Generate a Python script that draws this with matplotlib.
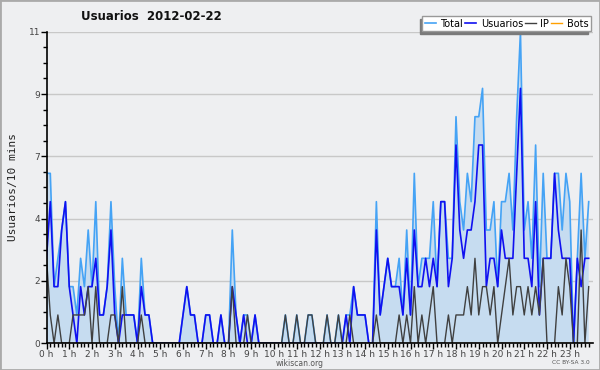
import numpy as np
import matplotlib
matplotlib.use('Agg')
import matplotlib.pyplot as plt
from matplotlib.patches import Rectangle

# 10-minute slots over the day (144 values)
usuarios = [3, 5, 2, 2, 4, 5, 2, 1, 0, 2, 1, 2, 2, 3, 1, 1, 2, 4, 1, 0,
            1, 1, 1, 1, 0, 2, 1, 1, 0, 0, 0, 0, 0, 0, 0, 0, 1, 2, 1, 1,
            0, 0, 1, 1, 0, 0, 1, 0, 0, 2, 1, 0, 1, 0, 0, 1, 0, 0, 0, 0,
            0, 0, 0, 0, 0, 0, 0, 0, 0, 0, 0, 0, 0, 0, 0, 0, 0, 0, 0, 1,
            0, 2, 1, 1, 1, 0, 0, 4, 1, 2, 3, 2, 2, 2, 1, 3, 1, 4, 2, 2,
            3, 2, 3, 2, 5, 5, 2, 3, 7, 4, 3, 4, 4, 5, 7, 7, 2, 3, 3, 2,
            4, 3, 3, 3, 6, 9, 3, 3, 2, 5, 1, 3, 3, 3, 6, 4, 3, 3, 3, 0,
            3, 2, 3, 3]
ip = [3, 1, 0, 1, 0, 0, 0, 1, 1, 1, 1, 2, 0, 2, 0, 0, 0, 1, 1, 0,
      2, 0, 0, 0, 0, 1, 0, 0, 0, 0, 0, 0, 0, 0, 0, 0, 0, 0, 0, 0,
      0, 0, 0, 0, 0, 0, 0, 0, 0, 2, 0, 0, 0, 1, 0, 0, 0, 0, 0, 0,
      0, 0, 0, 1, 0, 0, 1, 0, 0, 1, 1, 0, 0, 0, 1, 0, 0, 1, 0, 0,
      1, 0, 0, 0, 0, 0, 0, 1, 0, 0, 0, 0, 0, 1, 0, 1, 0, 2, 0, 1,
      0, 1, 2, 0, 0, 0, 1, 0, 1, 1, 1, 2, 1, 3, 1, 2, 2, 1, 2, 0,
      1, 2, 3, 1, 2, 2, 1, 2, 1, 2, 1, 3, 0, 0, 0, 2, 1, 3, 2, 0,
      0, 4, 0, 2]
total = [6, 6, 2, 3, 4, 5, 2, 2, 1, 3, 2, 4, 2, 5, 1, 1, 2, 5, 2, 0,
         3, 1, 1, 1, 0, 3, 1, 1, 0, 0, 0, 0, 0, 0, 0, 0, 1, 2, 1, 1,
         0, 0, 1, 1, 0, 0, 1, 0, 0, 4, 1, 0, 1, 1, 0, 1, 0, 0, 0, 0,
         0, 0, 0, 1, 0, 0, 1, 0, 0, 1, 1, 0, 0, 0, 1, 0, 0, 1, 0, 1,
         1, 2, 1, 1, 1, 0, 0, 5, 1, 2, 3, 2, 2, 3, 1, 4, 1, 6, 2, 3,
         3, 3, 5, 2, 5, 5, 3, 3, 8, 5, 4, 6, 5, 8, 8, 9, 4, 4, 5, 2,
         5, 5, 6, 4, 8, 11, 4, 5, 3, 7, 2, 6, 3, 3, 6, 6, 4, 6, 5, 0,
         3, 6, 3, 5]
bots = [0] * 144

hours = np.arange(144) / 6.0
hour_labels = ['%d h' % h for h in range(24)]
ytick_vals = [0, 2.2, 4.4, 6.6, 8.8, 11]
ytick_labels = ['0', '2', '4', '7', '9', '11']

bg = '#eeeff1'
fig = plt.figure(figsize=(6, 3.7), dpi=100, facecolor=bg)
ax = fig.add_axes([0.0775, 0.0722, 0.91, 0.8421])
ax.set_facecolor(bg)

ax.grid(axis='y', which='major', color='#c8c8c8', lw=1, zorder=0)
ax.set_axisbelow(True)

ax.fill_between(hours, 0, np.array(total, dtype=float), facecolor='#c6dcf0',
                edgecolor='none', zorder=1.5)
l_bots, = ax.plot(hours, bots, color='#ffa000', lw=1, zorder=2)
l_total, = ax.plot(hours, total, color='#45a3f5', lw=1.2, zorder=3)
l_usu, = ax.plot(hours, usuarios, color='#1010f0', lw=1.2, zorder=4)
l_ip, = ax.plot(hours, ip, color='#404040', lw=1.0, zorder=5)

ax.set_xlim(0, 24)
ax.set_ylim(0, 11)
ax.set_yticks(ytick_vals)
ax.set_yticklabels(ytick_labels)
ax.set_yticks(np.arange(0, 11.01, 0.55), minor=True)
ax.set_xticks(range(24))
ax.set_xticklabels(hour_labels)
ax.set_xticks(hours, minor=True)

for s in ['top', 'right']:
    ax.spines[s].set_visible(False)
for s in ['left', 'bottom']:
    ax.spines[s].set_color('black')
    ax.spines[s].set_linewidth(1.2)
    ax.spines[s].set_zorder(6)

ax.tick_params(axis='both', which='major', labelsize=6.5, labelcolor='#444444',
               length=4, width=1, color='black', pad=0.5)
ax.tick_params(axis='both', which='minor', length=3, width=1, color='black')

ax.set_ylabel('Usuarios/10 mins', family='DejaVu Sans Mono', fontsize=8,
              color='#222222', labelpad=8)

fig.text(0.252, 0.955, 'Usuarios  2012-02-22', fontsize=8.5, fontweight='bold',
         ha='center', va='center', color='#111111')
fig.text(0.5, 0.018, 'wikiscan.org', fontsize=5.5, ha='center', va='center',
         color='#555555')
fig.text(0.983, 0.02, 'CC BY-SA 3.0', fontsize=4.2, ha='right', va='center',
         color='#555555')

leg = ax.legend([l_total, l_usu, l_ip, l_bots],
                ['Total', 'Usuarios', 'IP', 'Bots'], loc='upper right',
                fontsize=7, ncol=4, frameon=True, fancybox=False,
                handlelength=1.1, handletextpad=0.5, columnspacing=0.2,
                borderpad=0.25, bbox_to_anchor=(1.006, 1.065),
                shadow={'ox': -2, 'oy': -2, 'facecolor': '#7a7a7a',
                        'edgecolor': '#7a7a7a', 'alpha': 1})
leg.get_frame().set_edgecolor('#999999')
leg.get_frame().set_linewidth(1)
leg.get_frame().set_facecolor('white')
leg.set_zorder(10)

fig.patches.append(Rectangle((0, 0), 1, 1, transform=fig.transFigure,
                             fill=False, edgecolor='#aaaaaa', lw=2))

fig.savefig('out.png', dpi=100, facecolor=bg)
